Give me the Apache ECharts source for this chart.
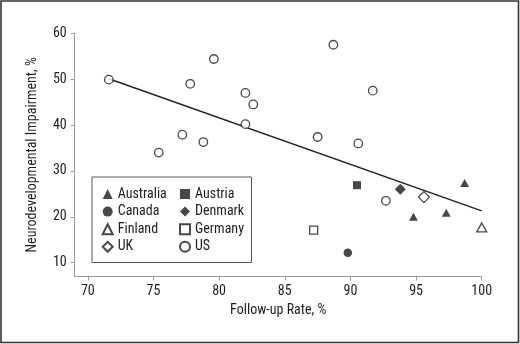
<!DOCTYPE html>
<html><head><meta charset="utf-8">
<script src="https://cdn.jsdelivr.net/npm/echarts@6/dist/echarts.min.js"></script>
<style>html,body{margin:0;padding:0;background:#fff}#c{width:520px;height:344px}</style>
</head><body><div id="c"></div>
<script>
// ---- data ----
const xTicks = [70, 75, 80, 85, 90, 95, 100];
const yTicks = [10, 20, 30, 40, 50, 60];
const australia = [[94.8, 20.0], [97.3, 20.9], [98.7, 27.4]];
const austria = [[90.5, 26.9]];
const canada = [[89.8, 12.2]];
const denmark = [[93.8, 26.0]];
const finland = [[100.0, 17.7]];
const germany = [[87.2, 17.1]];
const uk = [[95.6, 24.3]];
const us = [[71.6, 49.9], [75.4, 34.0], [77.2, 37.9], [77.8, 49.0], [78.8, 36.3], [79.6, 54.4],
            [82.0, 47.0], [82.0, 40.2], [82.6, 44.5], [87.5, 37.4], [88.7, 57.5], [90.6, 36.0],
            [91.7, 47.5], [92.7, 23.5]];
const trendLine = [[71.6, 50.1], [100.0, 21.3]];
const legendCol1 = ['Australia', 'Canada', 'Finland', 'UK'];
const legendCol2 = ['Austria', 'Denmark', 'Germany', 'US'];

// pick an installed condensed font if any
function pickFont(cands) {
  const ctx = document.createElement('canvas').getContext('2d');
  const s = 'Follow-up Rate, % 0123456789 Australia';
  for (const f of cands) {
    ctx.font = '40px "' + f + '", monospace'; const b = ctx.measureText(s).width;
    ctx.font = '40px "' + f + '", serif'; const b2 = ctx.measureText(s).width;
    if (Math.abs(b - b2) < 0.01) return f;
  }
  return 'Roboto';
}
const fam = pickFont(['Liberation Sans Narrow', 'Arial Narrow', 'Roboto Condensed', 'Roboto']);
const FONT = '"' + fam + '", sans-serif';
const FS = 14;

const INK = '#1a1a1a';
const AX = '#9a9a9a';
const TXT = '#1e1e1e';

function sc(name, data, symbol, size, filled) {
  return {
    name, type: 'scatter', data, symbol, symbolSize: size, clip: false, z: 5,
    itemStyle: filled ? { color: INK, borderColor: INK, borderWidth: 0 }
                      : { color: '#fff', borderColor: INK, borderWidth: 1.3 },
    emphasis: { disabled: true }
  };
}
function lg(names, left) {
  return {
    data: names, left: left, top: 187, orient: 'vertical', padding: 0,
    itemWidth: 10, itemHeight: 10, itemGap: 3.6, selectedMode: false, z: 6,
    textStyle: { fontFamily: FONT, fontSize: FS, color: TXT }
  };
}

const chart = echarts.init(document.getElementById('c'), null, { renderer: 'canvas' });
chart.setOption({
  animation: false,
  backgroundColor: '#fff',
  textStyle: { fontFamily: FONT },
  grid: { left: 74.7, right: 38.3, top: 33.3, bottom: 67.5 },
  xAxis: {
    type: 'value', min: 69, max: 100,
    name: 'Follow-up Rate, %', nameLocation: 'middle', nameGap: 27,
    nameTextStyle: { fontFamily: FONT, fontSize: FS, color: TXT },
    axisLine: { show: true, lineStyle: { color: AX, width: 1 } },
    axisTick: { show: true, length: 4, lineStyle: { color: AX }, customValues: xTicks },
    axisLabel: { fontFamily: FONT, fontSize: FS, color: TXT, margin: 8, customValues: xTicks },
    splitLine: { show: false }
  },
  yAxis: {
    type: 'value', min: 7, max: 60,
    name: 'Neurodevelopmental Impairment, %', nameLocation: 'middle', nameGap: 35,
    nameTextStyle: { fontFamily: FONT, fontSize: FS, color: TXT },
    axisLine: { show: true, lineStyle: { color: AX, width: 1 } },
    axisTick: { show: true, length: 4, lineStyle: { color: AX }, customValues: yTicks },
    axisLabel: { fontFamily: FONT, fontSize: FS, color: TXT, margin: 8, customValues: yTicks },
    splitLine: { show: false }
  },
  legend: [lg(legendCol1, 101.7), lg(legendCol2, 179)],
  series: [
    {
      type: 'line', data: trendLine, symbol: 'none', silent: true, z: 3,
      lineStyle: { color: '#222', width: 1.4 }
    },
    sc('Australia', australia, 'triangle', [9, 8], true),
    sc('Austria', austria, 'rect', 8, true),
    sc('Canada', canada, 'circle', 8.5, true),
    sc('Denmark', denmark, 'diamond', [11, 11], true),
    sc('Finland', finland, 'triangle', [10, 9], false),
    sc('Germany', germany, 'rect', 8, false),
    sc('UK', uk, 'diamond', [11, 11], false),
    sc('US', us, 'circle', 8.5, false)
  ],
  graphic: [
    {
      type: 'rect', silent: true, z: 1,
      shape: { x: 92, y: 177, width: 159.5, height: 85.5 },
      style: { fill: '#fff', stroke: '#555', lineWidth: 1 }
    },
    {
      type: 'rect', silent: true, z: 100,
      shape: { x: 1, y: 1, width: 517.5, height: 341.5 },
      style: { fill: 'none', stroke: '#333', lineWidth: 1.6 }
    }
  ]
});
</script></body></html>
